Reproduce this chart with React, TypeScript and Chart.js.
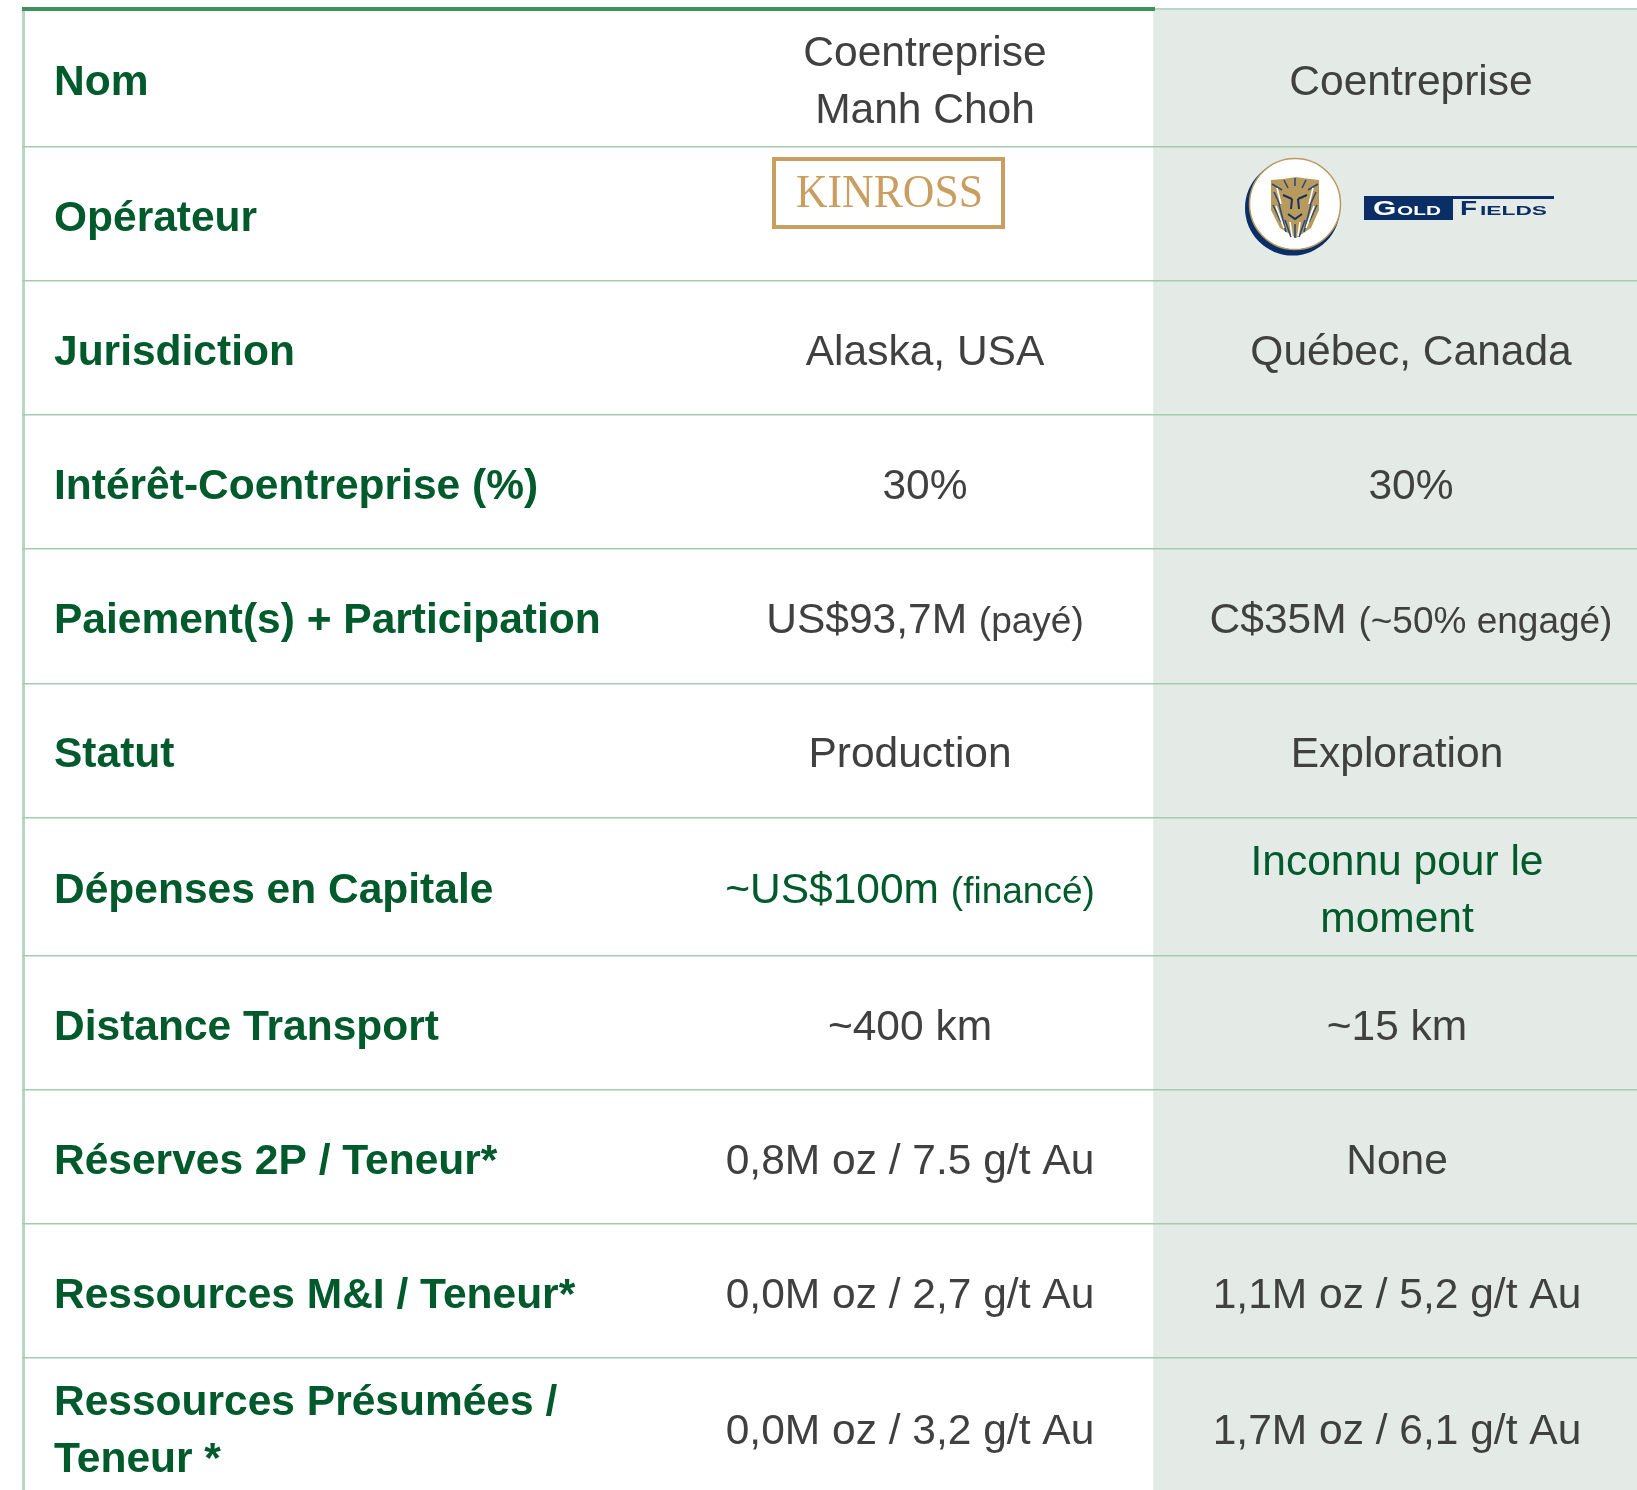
import React, { useEffect, useRef } from "react";
import { Chart, registerables } from "chart.js";

Chart.register(...registerables);

const rowLabels = [
  ["Nom"],
  ["Opérateur"],
  ["Jurisdiction"],
  ["Intérêt-Coentreprise (%)"],
  ["Paiement(s) + Participation"],
  ["Statut"],
  ["Dépenses en Capitale"],
  ["Distance Transport"],
  ["Réserves 2P / Teneur*"],
  ["Ressources M&I / Teneur*"],
  ["Ressources Présumées /", "Teneur *"],
];
const manhChoh = [
  ["Coentreprise", "Manh Choh"],
  [],
  ["Alaska, USA"],
  ["30%"],
  ["US$93,7M"],
  ["Production"],
  ["~US$100m"],
  ["~400 km"],
  ["0,8M oz / 7.5 g/t Au"],
  ["0,0M oz / 2,7 g/t Au"],
  ["0,0M oz / 3,2 g/t Au"],
];
const manhChohNotes = ["", "", "", "", "(payé)", "", "(financé)", "", "", "", ""];
const goldFields = [
  ["Coentreprise"],
  [],
  ["Québec, Canada"],
  ["30%"],
  ["C$35M"],
  ["Exploration"],
  ["Inconnu pour le", "moment"],
  ["~15 km"],
  ["None"],
  ["1,1M oz / 5,2 g/t Au"],
  ["1,7M oz / 6,1 g/t Au"],
];
const goldFieldsNotes = ["", "", "", "", "(~50% engagé)", "", "", "", "", "", ""];
const rowEdges = [147, 281, 415, 549, 684, 818, 956, 1090, 1224, 1358];
const tableTop = 9;
const tableBottom = 1497;
const shadedColumn = [1153.5, 1637];
const col1Centers = [925, 925, 925, 925, 925, 910, 910, 910, 910, 910, 910];
const col2Centers = [1411, 1411, 1411, 1411, 1411, 1397, 1397, 1397, 1397, 1397, 1397];
const greenValueRow = 6;
const singleLineNudge = [0, 0, 0, 0, 0, -1, -1, 0, 0, 0, 0];

const SANS = '"Liberation Sans", Arial, sans-serif';
const GREEN = "#005a2b";
const GREY = "#404040";
const GOLD = "#c89f60";
const NAVY = "#0a2f66";
const MAIN_SIZE = 42.5;
const NOTE_SIZE = 37;

function drawKinross(ctx: CanvasRenderingContext2D) {
  ctx.strokeStyle = GOLD;
  ctx.lineWidth = 4;
  ctx.strokeRect(774, 159, 229, 68);
  ctx.fillStyle = GOLD;
  ctx.font = '46px "Liberation Serif", serif';
  ctx.textAlign = "left";
  ctx.fillText("KINROSS", 796, 207, 187);
}

function drawGoldFields(ctx: CanvasRenderingContext2D) {
  ctx.fillStyle = NAVY;
  ctx.beginPath();
  ctx.arc(1292.5, 208, 47.5, 0, Math.PI * 2);
  ctx.fill();
  ctx.fillStyle = "#ffffff";
  ctx.strokeStyle = "#b99a5f";
  ctx.lineWidth = 1.5;
  ctx.beginPath();
  ctx.arc(1295, 204, 45.5, 0, Math.PI * 2);
  ctx.fill();
  ctx.stroke();

  // lion head
  ctx.fillStyle = "#b89a5c";
  ctx.beginPath();
  ctx.moveTo(1271, 180);
  ctx.lineTo(1283, 179);
  ctx.lineTo(1296, 177);
  ctx.lineTo(1310, 179);
  ctx.lineTo(1319, 180);
  ctx.lineTo(1319, 210);
  ctx.lineTo(1311, 228);
  ctx.lineTo(1296, 238);
  ctx.lineTo(1280, 228);
  ctx.lineTo(1271, 210);
  ctx.closePath();
  ctx.fill();
  ctx.strokeStyle = "#2c4a78";
  ctx.lineWidth = 1.6;
  const mane: number[][] = [
    [1272, 184, 1282, 190], [1318, 184, 1308, 190], [1274, 192, 1280, 205], [1316, 192, 1310, 205],
    [1273, 205, 1281, 222], [1317, 205, 1309, 222], [1279, 204, 1286, 232], [1311, 204, 1304, 232],
    [1285, 220, 1291, 237], [1305, 220, 1299, 237], [1295, 224, 1295, 238], [1284, 180, 1288, 188],
    [1306, 180, 1302, 188], [1295, 178, 1295, 186],
  ];
  for (const [a, b, c, d] of mane) {
    ctx.beginPath();
    ctx.moveTo(a, b);
    ctx.lineTo(c, d);
    ctx.stroke();
  }
  ctx.strokeStyle = "#ffffff";
  const highlights: number[][] = [
    [1277, 188, 1281, 204], [1313, 188, 1309, 204], [1276, 206, 1284, 228], [1314, 206, 1306, 228],
    [1290, 222, 1292, 236], [1300, 222, 1298, 236],
  ];
  for (const [a, b, c, d] of highlights) {
    ctx.beginPath();
    ctx.moveTo(a, b);
    ctx.lineTo(c, d);
    ctx.stroke();
  }
  ctx.strokeStyle = "#14315f";
  ctx.lineWidth = 2;
  ctx.beginPath();
  ctx.moveTo(1283, 195);
  ctx.lineTo(1292, 199);
  ctx.moveTo(1307, 195);
  ctx.lineTo(1298, 199);
  ctx.moveTo(1292, 199);
  ctx.lineTo(1291, 209);
  ctx.moveTo(1298, 199);
  ctx.lineTo(1299, 209);
  ctx.moveTo(1288, 214);
  ctx.lineTo(1295, 219);
  ctx.lineTo(1302, 214);
  ctx.stroke();

  // wordmark
  ctx.fillStyle = NAVY;
  ctx.fillRect(1364, 196, 89, 24);
  ctx.fillRect(1453, 196, 101, 3);
  const word = (t: string, x: number, y: number, size: number, sx: number, color: string) => {
    ctx.save();
    ctx.translate(x, y);
    ctx.scale(sx, 1);
    ctx.fillStyle = color;
    ctx.font = `bold ${size}px "Liberation Sans", sans-serif`;
    ctx.textAlign = "left";
    ctx.fillText(t, 0, 0);
    ctx.restore();
  };
  word("G", 1373, 215, 20, 1.5, "#ffffff");
  word("OLD", 1397, 215, 13, 1.6, "#ffffff");
  word("F", 1460, 215, 20, 1.4, NAVY);
  word("IELDS", 1480, 215, 13, 1.75, NAVY);
}

const tablePlugin = {
  id: "tableCells",
  afterDraw(chart: any) {
    const { ctx, scales } = chart;
    const X = (v: number) => scales.x.getPixelForValue(v);
    const Y = (v: number) => scales.y.getPixelForValue(v);
    ctx.save();

    // the table's rules start at its left border and top edge
    ctx.clearRect(0, 0, X(22), Y(1490));
    ctx.clearRect(0, 0, X(1155), Y(7));

    // top rules
    ctx.fillStyle = "#b7d6c4";
    ctx.fillRect(X(1155), Y(8), X(1637) - X(1155), 2);
    ctx.fillStyle = "#3c915e";
    ctx.fillRect(X(22), Y(7), X(1155) - X(22), 4);

    const edges = [tableTop, ...rowEdges, tableBottom];
    const LINE = 57;
    const RISE = 16.5;
    const DOUBLE_SHIFT = -0.5;
    ctx.textBaseline = "alphabetic";
    rowLabels.forEach((lines, i) => {
      const mid = (edges[i] + edges[i + 1]) / 2;
      const startOf = (n: number) =>
        mid - ((n - 1) * LINE) / 2 + (n > 1 ? DOUBLE_SHIFT : singleLineNudge[i]);
      ctx.font = `bold ${MAIN_SIZE}px ${SANS}`;
      ctx.fillStyle = GREEN;
      ctx.textAlign = "left";
      lines.forEach((t, k) => ctx.fillText(t, X(54), Y(startOf(lines.length) + k * LINE + RISE)));

      const cell = (parts: string[], note: string, center: number) => {
        ctx.fillStyle = i === greenValueRow ? GREEN : GREY;
        const s = startOf(parts.length);
        parts.forEach((t, k) => {
          ctx.font = `${MAIN_SIZE}px ${SANS}`;
          const w = ctx.measureText(note ? t + " " : t).width;
          ctx.font = `${NOTE_SIZE}px ${SANS}`;
          const nw = note ? ctx.measureText(note).width : 0;
          const left = center - (w + nw) / 2;
          ctx.textAlign = "left";
          ctx.font = `${MAIN_SIZE}px ${SANS}`;
          ctx.fillText(t, X(left), Y(s + k * LINE + RISE));
          if (note) {
            ctx.font = `${NOTE_SIZE}px ${SANS}`;
            ctx.fillText(note, X(left + w), Y(s + k * LINE + RISE));
          }
        });
      };
      cell(manhChoh[i], manhChohNotes[i], col1Centers[i]);
      cell(goldFields[i], goldFieldsNotes[i], col2Centers[i]);
    });

    drawKinross(ctx);
    drawGoldFields(ctx);
    ctx.restore();
  },
};

export default function App() {
  const ref = useRef<HTMLCanvasElement>(null);
  useEffect(() => {
    document.body.style.margin = "0";
    document.body.style.background = "#ffffff";
    const chart = new Chart(ref.current!, {
      type: "bar",
      data: {
        datasets: [
          {
            label: "Coentreprise Gold Fields",
            data: [{ x: shadedColumn, y: 750 }] as any,
            backgroundColor: "#e4ebe7",
            borderWidth: 0,
            barThickness: 1482,
          },
        ],
      },
      options: {
        indexAxis: "y",
        responsive: false,
        animation: false,
        layout: { padding: 0 },
        plugins: { legend: { display: false }, tooltip: { enabled: false } },
        scales: {
          x: {
            type: "linear",
            min: 0,
            max: 1637,
            offset: false,
            ticks: { display: false },
            border: { display: false },
            afterBuildTicks: (s: any) => {
              s.ticks = [{ value: 23 }];
            },
            grid: { color: "#b7d6c4", lineWidth: 3, drawTicks: false, z: 1, offset: false },
          },
          y: {
            type: "linear",
            reverse: true,
            min: 0,
            max: 1490,
            offset: false,
            ticks: { display: false },
            border: { display: false },
            afterBuildTicks: (s: any) => {
              s.ticks = rowEdges.map((value) => ({ value }));
            },
            grid: { color: "#a3cbb0", lineWidth: 1.5, drawTicks: false, z: 1, offset: false },
          },
        },
      } as any,
      plugins: [tablePlugin],
    });
    return () => chart.destroy();
  }, []);
  return (
    <div style={{ position: "absolute", left: 0, top: 0, width: 1637, height: 1490 }}>
      <canvas ref={ref} width={1637} height={1490} style={{ display: "block" }} />
    </div>
  );
}
